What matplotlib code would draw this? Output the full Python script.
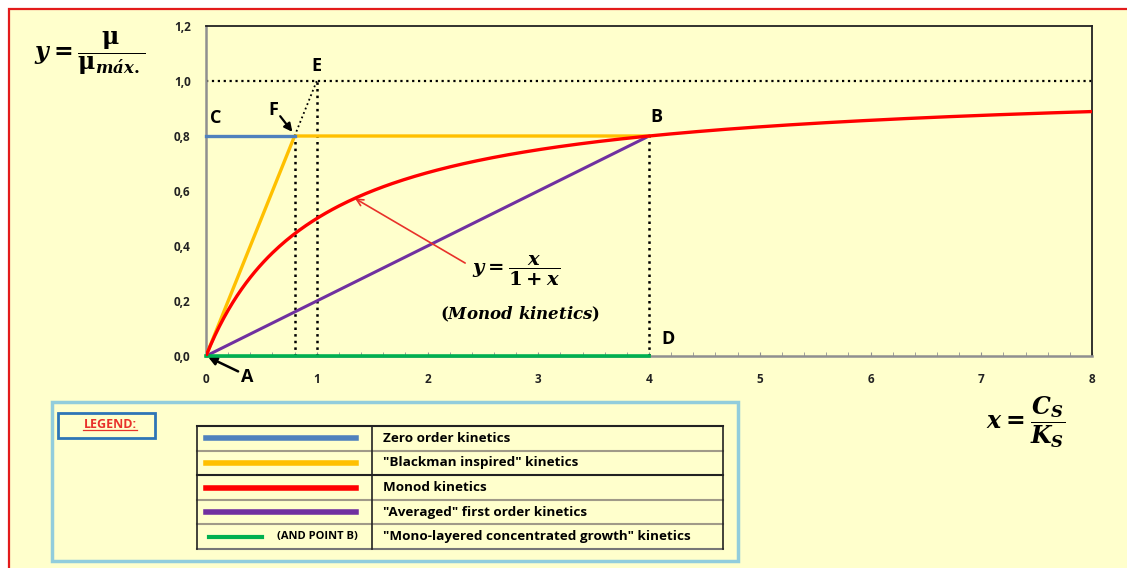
import numpy as np
import matplotlib.pyplot as plt
from matplotlib.patches import Rectangle
from matplotlib.ticker import MultipleLocator, FuncFormatter

plt.rcParams['font.family'] = ['Open Sans', 'DejaVu Sans']
plt.rcParams['mathtext.fontset'] = 'custom'
plt.rcParams['mathtext.rm'] = 'DejaVu Serif:bold'
plt.rcParams['mathtext.it'] = 'DejaVu Serif:bold:italic'
plt.rcParams['mathtext.bf'] = 'DejaVu Serif:bold'

# kinetics curves (x = Cs/Ks, y = mu/mu_max)
zero_x = [0, 0.8]
zero_y = [0.8, 0.8]
blackman_x = [0, 0.8, 4]
blackman_y = [0, 0.8, 0.8]
avg_x = [0, 4]
avg_y = [0, 0.8]
mono_x = [0, 4]
mono_y = [0, 0]
monod_x = np.linspace(0, 8, 400)
monod_y = monod_x / (1 + monod_x)

legend_labels = ['Zero order kinetics', '"Blackman inspired" kinetics', 'Monod kinetics',
                 '"Averaged" first order kinetics', '"Mono-layered concentrated growth" kinetics']

c_blue = '#4F81BD'
c_orange = '#FFC000'
c_red = '#FF0000'
c_purple = '#7030A0'
c_green = '#00B050'
bg = '#FFFFCC'
legend_colors = [c_blue, c_orange, c_red, c_purple, c_green]

fig = plt.figure(figsize=(11.27, 5.68), dpi=100)
fig.patch.set_facecolor('white')

# background panel drawn in pixel coordinates
bgax = fig.add_axes([0, 0, 1, 1])
bgax.set_xlim(0, 1127)
bgax.set_ylim(568, 0)
bgax.axis('off')
bgax.add_patch(Rectangle((9, 9), 1140, 570, facecolor=bg, edgecolor='#E31B1B', lw=1.6))

ax = fig.add_axes([206/1127, 1 - 356/568, 886/1127, 330/568])
ax.set_facecolor(bg)
ax.set_xlim(0, 8)
ax.set_ylim(0, 1.2)

ax.plot([0, 8], [1.0, 1.0], color='black', ls=':', lw=1.6)
ax.plot([0.8, 0.8], [0, 0.8], color='black', ls=':', lw=1.8)
ax.plot([1, 1], [0, 1.0], color='black', ls=':', lw=1.8)
ax.plot([0.8, 1], [0.8, 1.0], color='black', ls=':', lw=1.3)
ax.plot([4, 4], [0, 0.8], color='black', ls=':', lw=1.8)

ax.plot(mono_x, mono_y, color=c_green, lw=2.6, clip_on=False, zorder=4)
ax.plot(avg_x, avg_y, color=c_purple, lw=2.2, zorder=3)
ax.plot(monod_x, monod_y, color=c_red, lw=2.4, zorder=4)
ax.plot(blackman_x, blackman_y, color=c_orange, lw=2.4, zorder=3)
ax.plot(zero_x, zero_y, color=c_blue, lw=2.4, clip_on=False, zorder=3)

for side in ['top', 'right']:
    ax.spines[side].set_color('#222222')
    ax.spines[side].set_linewidth(1.3)
for side in ['left', 'bottom']:
    ax.spines[side].set_color('#909090')
    ax.spines[side].set_linewidth(1.8)

ax.xaxis.set_major_locator(MultipleLocator(1))
ax.xaxis.set_minor_locator(MultipleLocator(0.2))
ax.yaxis.set_major_locator(MultipleLocator(0.2))
ax.xaxis.set_major_formatter(FuncFormatter(lambda v, p: f'{v:.0f}'))
ax.yaxis.set_major_formatter(FuncFormatter(lambda v, p: f'{v:.1f}'.replace('.', ',')))
ax.tick_params(axis='both', which='both', length=3, color='#909090', labelsize=8.5, labelcolor='#222222')
ax.tick_params(axis='y', length=0, pad=11)
ax.tick_params(axis='x', which='both', direction='in', pad=12)
for lab in ax.get_xticklabels() + ax.get_yticklabels():
    lab.set_fontweight('bold')

# point labels
pt = dict(fontsize=13, fontweight='bold', ha='center', va='center', color='black')
ax.text(0.09, 0.865, 'C', **pt)
ax.text(0.605, 0.895, 'F', **pt)
ax.text(1.0, 1.055, 'E', **pt)
ax.text(4.07, 0.87, 'B', **pt)
ax.text(4.17, 0.062, 'D', **pt)
ax.text(0.37, -0.075, 'A', clip_on=False, **pt)
ax.annotate('', xy=(0.02, -0.004), xytext=(0.29, -0.056), annotation_clip=False,
            arrowprops=dict(arrowstyle='-|>', color='black', lw=1.8, mutation_scale=12,
                            shrinkA=0, shrinkB=0))
ax.annotate('', xy=(0.78, 0.815), xytext=(0.67, 0.872),
            arrowprops=dict(arrowstyle='-|>', color='black', lw=1.6, mutation_scale=12,
                            shrinkA=0, shrinkB=0))
ax.annotate('', xy=(1.345, 0.573), xytext=(2.34, 0.338),
            arrowprops=dict(arrowstyle='->', color='#E8312A', lw=1.2, mutation_scale=12,
                            shrinkA=0, shrinkB=0))
ax.text(2.8, 0.31, r'$y = \dfrac{x}{1 + x}$', fontsize=14, ha='center', va='center')
ax.text(2.84, 0.152, r'$(Monod\ kinetics)$', fontsize=12, ha='center', va='center')

# axis titles
bgax.text(90, 53, r'$y = \dfrac{\mathrm{\mu}}{\mathrm{\mu}_{m\acute{a}x.}}$', fontsize=17,
          ha='center', va='center')
bgax.text(1026, 422, r'$x = \dfrac{C_S}{K_S}$', fontsize=17, ha='center', va='center')

# legend panel
bgax.add_patch(Rectangle((52, 402), 686, 159, facecolor='none', edgecolor='#92CDDC', lw=2.5))
bgax.add_patch(Rectangle((58, 413), 97, 25, facecolor='none', edgecolor='#2E75B6', lw=2))
bgax.text(110, 424, 'LEGEND:', color='#E8312A', fontsize=9, fontweight='bold',
          ha='center', va='center')
bgax.plot([83, 137], [430, 430], color='#E8312A', lw=0.9)

t_left, t_sep, t_right = 197, 372, 723
rows = np.linspace(426, 549, 6)
sep_colors = ['#222222', '#A09A88', '#222222', '#A09A88', '#A09A88', '#777777']
for yy, cc in zip(rows, sep_colors):
    bgax.plot([t_left, t_right], [yy, yy], color=cc, lw=1.5)
bgax.plot([t_left, t_left], [rows[0], rows[-1]], color='#222222', lw=1.2)
bgax.plot([t_sep, t_sep], [rows[0], rows[-1]], color='#222222', lw=1.2)
bgax.plot([t_right, t_right], [rows[0], rows[-1]], color='#222222', lw=1.2)
for i, (lab, col) in enumerate(zip(legend_labels, legend_colors)):
    ym = (rows[i] + rows[i + 1]) / 2
    if i < 4:
        bgax.plot([206, 356], [ym, ym], color=col, lw=4)
    else:
        bgax.plot([209, 262], [ym, ym], color=col, lw=3)
        bgax.text(277, ym, '(AND POINT B)', fontsize=8, fontweight='bold', va='center')
    bgax.text(383, ym, lab, fontsize=9.7, fontweight='bold', va='center')

fig.savefig('out.png', dpi=100, facecolor=fig.get_facecolor())
